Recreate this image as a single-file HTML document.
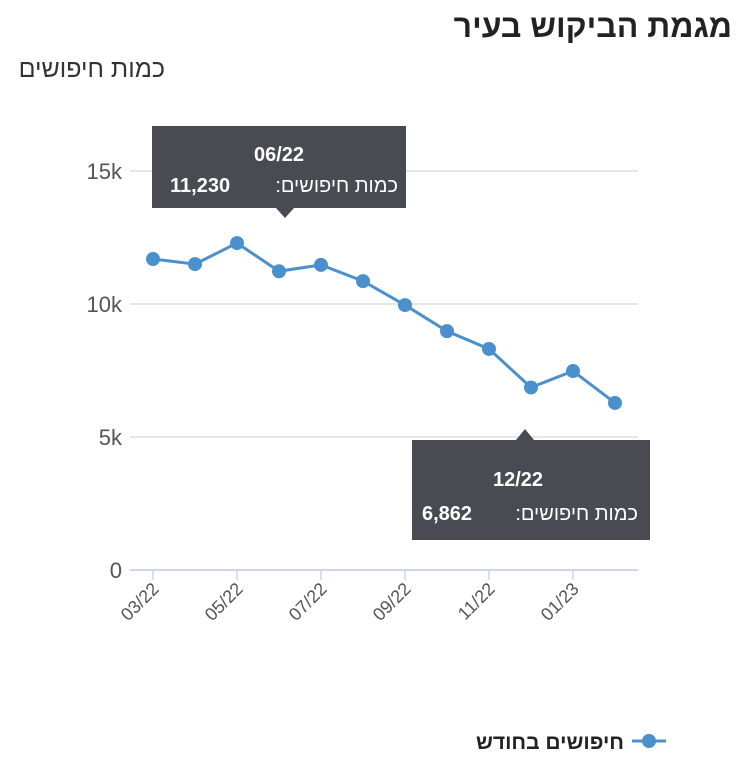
<!DOCTYPE html>
<html><head><meta charset="utf-8"><style>
body{margin:0;width:750px;height:772px;background:#fff;overflow:hidden;font-family:"Liberation Sans","Noto Sans CJK SC",sans-serif}
svg{position:absolute;left:0;top:0}
</style></head><body>
<svg id="c" width="750" height="772">
<rect x="0" y="0" width="750" height="772" fill="#fff"/>
<text x="732" y="37" text-anchor="end" font-size="32" font-weight="bold" fill="#222">מגמת הביקוש בעיר</text>
<text x="165" y="77" text-anchor="end" font-size="25" fill="#333">כמות חיפושים</text>
<g id="grid"></g><g id="series"></g>
<g>
<rect x="152" y="126" width="254" height="82" fill="#4a4a52"/>
<polygon points="276,208 294,208 285,218" fill="#4a4a52"/>
<text x="279" y="161" text-anchor="middle" font-size="20" font-weight="bold" fill="#fff">06/22</text>
<text x="398" y="192" text-anchor="end" font-size="20" fill="#fff">:כמות חיפושים</text>
<text x="170" y="192" font-size="20" font-weight="bold" fill="#fff">11,230</text>
</g>
<g>
<polygon points="516,440 534,440 525,429" fill="#4a4a52"/>
<rect x="412" y="440" width="238" height="100" fill="#4a4a52"/>
<text x="518" y="486" text-anchor="middle" font-size="20" font-weight="bold" fill="#fff">12/22</text>
<text x="638" y="520" text-anchor="end" font-size="20" fill="#fff">:כמות חיפושים</text>
<text x="422" y="520" font-size="20" font-weight="bold" fill="#fff">6,862</text>
</g>
<g>
<line x1="632" y1="741" x2="666" y2="741" stroke="#4a90cc" stroke-width="3"/>
<circle cx="649" cy="741" r="7" fill="#4a90cc"/>
<text x="624" y="749" text-anchor="end" font-size="21" font-weight="bold" fill="#222">חיפושים בחודש</text>
</g>
</svg>
<script>
const categories=["03/22","04/22","05/22","06/22","07/22","08/22","09/22","10/22","11/22","12/22","01/23","02/23"];
const values=[11690,11500,12290,11230,11470,10860,9960,8980,8310,6862,7480,6280];
const yTicks=[0,5000,10000,15000];
const yTickLabels=["0","5k","10k","15k"];
const ns="http://www.w3.org/2000/svg";
function x(i){return 153+i*42;}
function y(v){return 570-v*133/5000;}
function mk(t,a,p){const e=document.createElementNS(ns,t);for(const k in a)e.setAttribute(k,a[k]);p.appendChild(e);return e;}
const g=document.getElementById('grid'),s=document.getElementById('series');
yTicks.forEach((v,i)=>{
  if(v>0){const l=mk('line',{x1:130,x2:638,y1:y(v),y2:y(v),stroke:'#e6e6e6','stroke-width':2},g);
  
  }
  const t=mk('text',{x:122,y:y(v)+8,'text-anchor':'end','font-size':22,fill:'#555'},g);t.textContent=yTickLabels[i];
  
  
});
const ax=mk('line',{x1:130,x2:638,y1:570,y2:570,stroke:'#ccd6eb','stroke-width':2},g);


categories.forEach((c,i)=>{
  if(i%2)return;
  mk('line',{x1:x(i),x2:x(i),y1:570,y2:580,stroke:'#ccd6eb','stroke-width':1.5},g);
  const t=mk('text',{transform:`translate(${x(i)+7},590) rotate(-45)`,'text-anchor':'end','font-size':18,fill:'#555'},g);
  t.textContent=c;
  
  
});
const pl=mk('polyline',{points:values.map((v,i)=>x(i)+','+y(v)).join(' '),fill:'none',stroke:'#4a90cc','stroke-width':3},s);


values.forEach((v,i)=>{
  const c=mk('circle',{cx:x(i),cy:y(v),r:7,fill:'#4a90cc'},s);
  
  
});
</script>
</body></html>
